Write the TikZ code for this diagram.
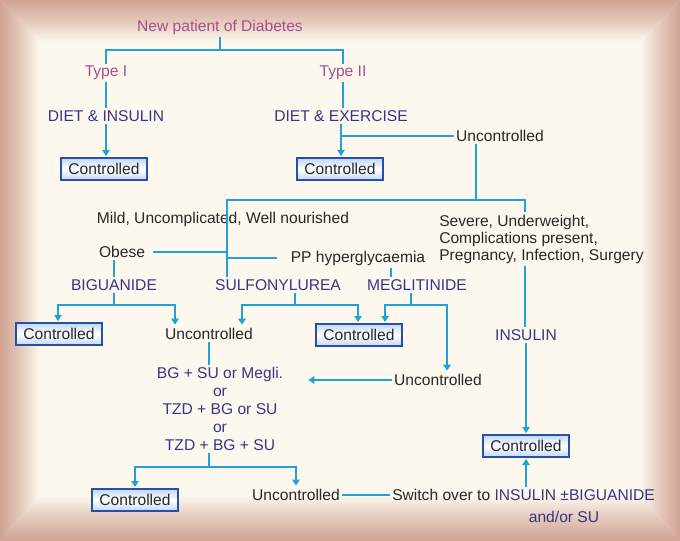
\documentclass[tikz,border=0pt]{standalone}
\usepackage{fontspec}
\setmainfont{Liberation Sans}
\usetikzlibrary{arrows.meta,calc}
\definecolor{cyanl}{RGB}{32,162,214}
\definecolor{txt}{RGB}{40,40,40}
\definecolor{navy}{RGB}{58,52,136}
\definecolor{mag}{RGB}{168,78,138}
\definecolor{boxb}{RGB}{40,80,170}
\definecolor{boxf}{RGB}{196,216,246}
\definecolor{cream}{RGB}{253,248,237}
\definecolor{rim}{RGB}{208,162,146}
\begin{document}
\begin{tikzpicture}[x=0.75pt,y=-0.75pt,
  lbl/.style={font=\fontsize{11.7}{13.5}\selectfont, text=txt, inner sep=1.5pt},
  drug/.style={lbl, text=navy},
  typ/.style={lbl, text=mag},
  ctrl/.style={lbl, draw=boxb, line width=1.5pt, top color=boxf, bottom color=boxf, middle color=white, minimum width=64pt, minimum height=16pt, inner sep=0pt},
  ln/.style={draw=cyanl, line width=1.5pt},
  arr/.style={ln, -{Triangle[width=5.5pt,length=4.5pt]}, shorten >=1pt},
]
% background and bevelled frame
\useasboundingbox (0,0) rectangle (680,541);
\fill[cream] (0,0) rectangle (680,541);
\begin{scope}
  \clip (0,0) -- (680,0) -- (640,42) -- (40,42) -- cycle;
  \shade[top color=rim, bottom color=cream, middle color=rim!55!cream] (0,0) rectangle (680,42);
\end{scope}
\begin{scope}
  \clip (0,0) -- (40,42) -- (40,495) -- (0,541) -- cycle;
  \shade[left color=rim, right color=cream, middle color=rim!55!cream] (0,0) rectangle (40,541);
\end{scope}
\begin{scope}
  \clip (680,0) -- (640,42) -- (640,495) -- (680,541) -- cycle;
  \shade[left color=cream, right color=rim, middle color=rim!55!cream] (640,0) rectangle (680,541);
\end{scope}
\begin{scope}
  \clip (0,541) -- (40,495) -- (640,495) -- (680,541) -- cycle;
  \shade[top color=cream, bottom color=rim, middle color=rim!55!cream] (0,495) rectangle (680,541);
\end{scope}

% nodes
\node[typ] (title) at (220,27) {New patient of Diabetes};
\node[typ] (t1) at (106,73) {Type I};
\node[typ] (t2) at (343,73) {Type II};
\node[drug] (di) at (106,116) {DIET \& INSULIN};
\node[drug] (de) at (341,116) {DIET \& EXERCISE};
\node[ctrl] (c1) at (104,169) {Controlled};
\node[ctrl] (c2) at (340,169) {Controlled};
\node[lbl] (u1) at (500,136) {Uncontrolled};
\node[lbl] (mild) at (223,219) {Mild, Uncomplicated, Well nourished};
\node[lbl, align=left, anchor=west, font=\fontsize{11.7}{12.75}\selectfont] (sev) at (437,239) {Severe, Underweight,\\Complications present,\\Pregnancy, Infection, Surgery};
\node[lbl] (obese) at (122,252) {Obese};
\node[lbl] (pp) at (358,258) {PP hyperglycaemia};
\node[drug] (big) at (114,285) {BIGUANIDE};
\node[drug] (sul) at (278,285) {SULFONYLUREA};
\node[drug] (meg) at (417,285) {MEGLITINIDE};
\node[ctrl] (cL) at (59,334) {Controlled};
\node[lbl] (uL) at (209,334) {Uncontrolled};
\node[ctrl] (cM) at (359,335) {Controlled};
\node[drug] (ins) at (526,335) {INSULIN};
\node[lbl] (uM) at (438,380) {Uncontrolled};
\node[drug, align=center] (combo) at (220,409) {BG + SU or Megli.\\or\\TZD + BG or SU\\or\\TZD + BG + SU};
\node[ctrl] (cR) at (526,446) {Controlled};
\node[ctrl] (cB) at (135,500) {Controlled};
\node[lbl] (uB) at (296,495) {Uncontrolled};
\node[lbl, anchor=west] (sw) at (390,495) {Switch over to \textcolor{navy}{INSULIN ±BIGUANIDE}};
\node[drug] (sw2) at (564,517) {and/or SU};

% coordinates
\coordinate (j0) at (220,50);
\coordinate (jA) at (476,200);
\coordinate (jL) at (227,200);
\coordinate (jR) at (525,200);
\coordinate (bL) at (58,305);
\coordinate (bR) at (175,305);
\coordinate (sj) at (295,305);
\coordinate (sL) at (242,305);
\coordinate (sR) at (358,305);
\coordinate (mj) at (411,305);
\coordinate (mL) at (385,305);
\coordinate (mR) at (447,305);
\coordinate (pt) at (391,270);
\coordinate (ua) at (307,380);
\coordinate (cj) at (209,467);
\coordinate (cjL) at (135,467);
\coordinate (cjR) at (296,467);

% connectors
\draw[ln] (title.south) -- (j0);
\draw[ln] (t1.north) |- (j0) -| (t2.north);
\draw[ln] (t1.south) -- (di.north);
\draw[arr] (di.south) -- (di.south |- c1.north);
\draw[ln] (t2.south) -- (t2.south |- de.north);
\draw[arr] (de.south) -- (de.south |- c2.north);
\draw[ln] (u1.west) -- (u1.west -| de.south);
\draw[ln] (jA |- u1.south) -- (jA);
\draw[ln] (jL |- sul.north) -- (jL) -- (jR) -- (jR |- sev.north);
\draw[ln, shorten <=4pt] (obese.east) -- (obese.east -| jL);
\draw[ln, shorten >=9pt] (jL |- pp) -- (pp.west);
\draw[ln] (big.north |- obese.south) -- (big.north);
\draw[ln] (big.south) -- (big.south |- bL);
\draw[arr] (bL -| big.south) -- (bL) -- (bL |- cL.north);
\draw[arr] (bL -| big.south) -- (bR) -- (bR |- uL.north);
\draw[ln] (sj |- sul.south) -- (sj);
\draw[arr] (sj) -- (sL) -- (sL |- uL.north);
\draw[arr] (sj) -- (sR) -- (sR |- cM.north);
\draw[ln] (pt |- pp.south) -- (pt |- meg.north);
\draw[ln] (mj |- meg.south) -- (mj);
\draw[arr] (mj) -- (mL) -- (mL |- cM.north);
\draw[arr] (mj) -- (mR) -- (mR |- uM.north);
\draw[arr] (uM.west) -- (ua);
\draw[ln] (uL.south) -- (uL.south |- combo.north);
\draw[ln] (cj |- combo.south) -- (cj);
\draw[arr] (cj) -- (cjL) -- (cjL |- cB.north);
\draw[arr] (cj) -- (cjR) -- (cjR |- uB.north);
\draw[ln] (uB.east) -- (sw.west);
\draw[ln] (jR |- sev.south) -- (jR |- ins.north);
\draw[arr] (ins.south) -- (ins.south |- cR.north);
\draw[arr] (sw.north -| cR) -- (cR.south);
\end{tikzpicture}
\end{document}
